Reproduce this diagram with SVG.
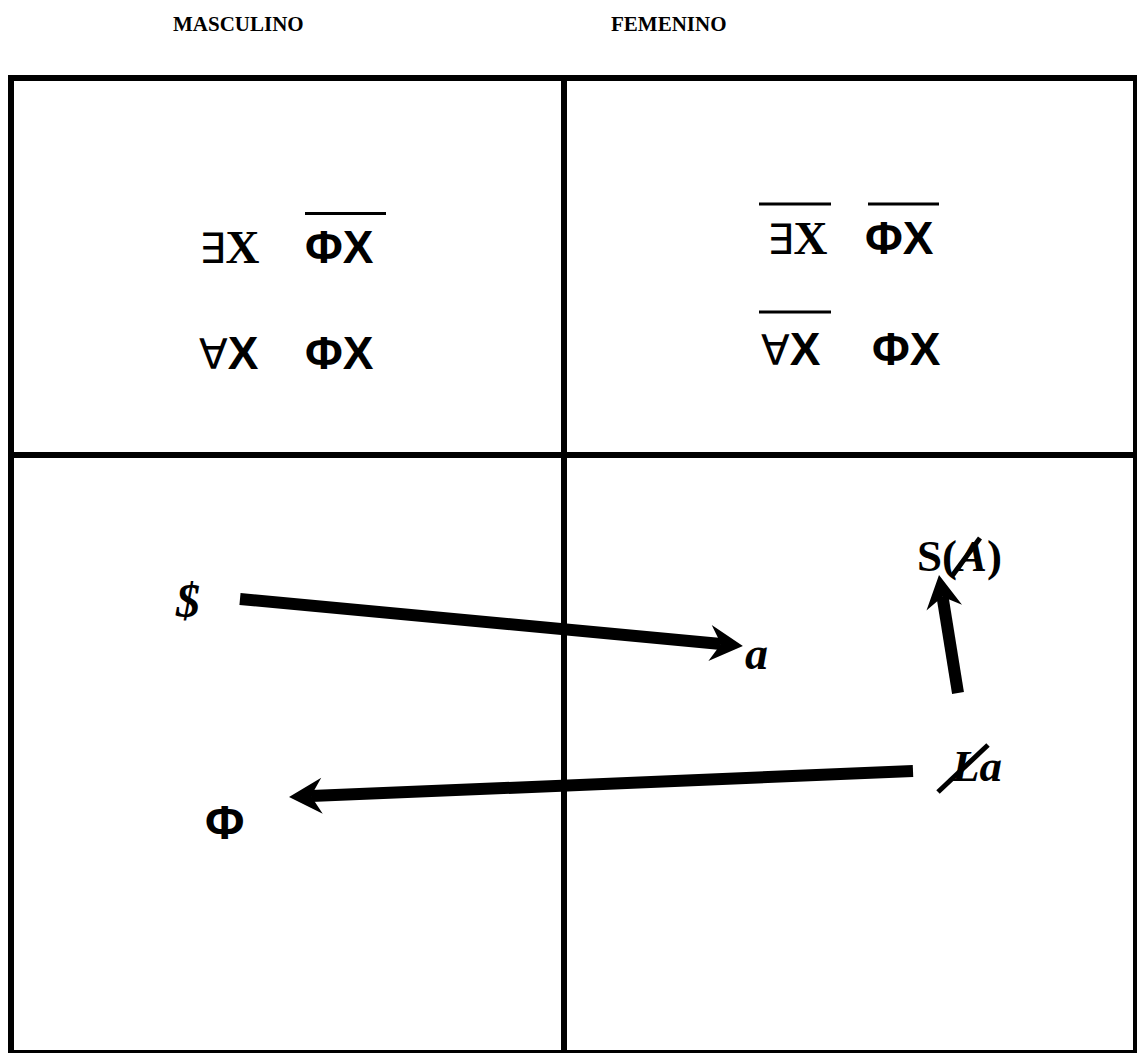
<svg xmlns="http://www.w3.org/2000/svg" width="1137" height="1053" viewBox="0 0 1137 1053">
<style>
.hdr{font-family:"Liberation Serif",serif;font-weight:bold;font-size:21px;fill:#000}
.ser{font-family:"Liberation Serif","DejaVu Serif",serif;font-size:44px;fill:#000}
.san{font-family:"Liberation Sans","DejaVu Sans",sans-serif;font-weight:bold;font-size:46px;fill:#000}
.sym{font-family:"DejaVu Sans","Liberation Sans",sans-serif;font-weight:normal;font-size:42px}
.b{font-weight:bold}
.bi{font-weight:bold;font-style:italic}
.grid{fill:none;stroke:#000;stroke-width:6}
.bar{stroke:#000;stroke-width:3}
.slash{stroke:#000;stroke-width:5;stroke-linecap:butt}
.arr{stroke:#000;stroke-width:12;fill:none;marker-end:url(#head)}
</style>
<defs>
<marker id="head" markerUnits="userSpaceOnUse" orient="auto" refX="0" refY="0" markerWidth="40" markerHeight="40" overflow="visible">
<path d="M22,0 L-11,-18 L0,0 L-11,18 Z" fill="#000"/>
</marker>
</defs>
<g id="headers">
<text class="hdr" x="173" y="31">MASCULINO</text>
<text class="hdr" x="611" y="31">FEMENINO</text>
</g>
<g id="grid">
<rect class="grid" x="11" y="78" width="1125" height="975"/>
<line class="grid" x1="564" y1="78" x2="564" y2="1053"/>
<line class="grid" x1="11" y1="455" x2="1136" y2="455"/>
</g>
<g id="masc-formulas">
<text class="ser" x="199" y="263" style="font-size:47px"><tspan class="sym">∃</tspan><tspan class="b">X</tspan></text>
<text class="san" x="305" y="263">ΦX</text>
<line class="bar" x1="305" y1="213.5" x2="386" y2="213.5"/>
<text class="san" x="199" y="369"><tspan class="sym">∀</tspan>X</text>
<text class="san" x="305" y="369">ΦX</text>
</g>
<g id="fem-formulas">
<line class="bar" x1="759" y1="204" x2="831" y2="204"/>
<text class="ser" x="767" y="254" style="font-size:47px"><tspan class="sym">∃</tspan><tspan class="b">X</tspan></text>
<line class="bar" x1="868" y1="204" x2="939" y2="204"/>
<text class="san" x="865" y="254">ΦX</text>
<line class="bar" x1="759" y1="312" x2="831" y2="312"/>
<text class="san" x="761" y="365"><tspan class="sym">∀</tspan>X</text>
<text class="san" x="872" y="365">ΦX</text>
</g>
<g id="node-S">
<text class="ser bi" x="176" y="617" style="font-size:48px">$</text>
</g>
<g id="node-a">
<text class="ser bi" x="745" y="669" style="font-size:46px">a</text>
</g>
<g id="node-SA">
<text class="ser b" x="917" y="571" style="font-size:45px">S(<tspan class="bi">A</tspan>)</text>
<line class="slash" x1="952" y1="576" x2="980" y2="538"/>
</g>
<g id="node-La">
<text class="ser bi" x="952" y="781" style="font-size:45px">La</text>
<line class="slash" x1="938" y1="792" x2="988" y2="745"/>
</g>
<g id="node-Phi">
<text class="san" x="205" y="839" style="font-size:48px">Φ</text>
</g>
<g id="connectors">
<line class="arr" x1="240" y1="599" x2="721" y2="644"/>
<line class="arr" x1="958" y1="693" x2="942.5" y2="596.7"/>
<line class="arr" x1="913" y1="771" x2="311" y2="796.1"/>
</g>
</svg>
